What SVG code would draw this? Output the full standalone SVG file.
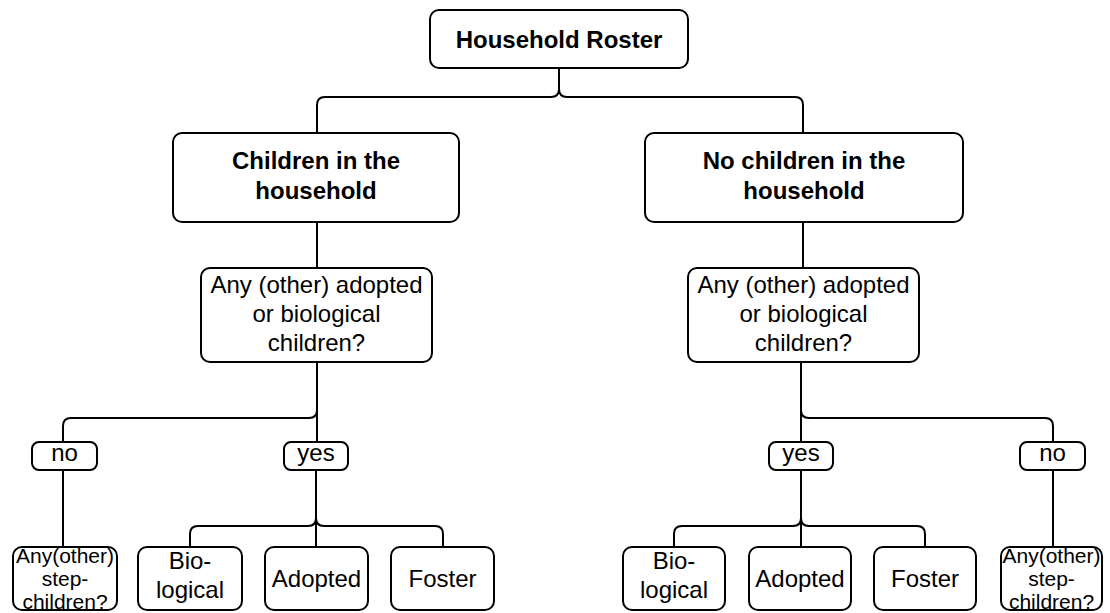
<svg xmlns="http://www.w3.org/2000/svg" width="1110" height="613" viewBox="0 0 1110 613">
<style>
rect{fill:#fff;stroke:#000;stroke-width:2}
.c path{fill:none;stroke:#000;stroke-width:2}
text{font-family:"Liberation Sans",Arial,sans-serif;font-size:24px;text-anchor:middle;fill:#000}
.b{font-weight:bold}
.s{font-size:21px}
</style>
<rect x="0" y="0" width="1110" height="613" style="stroke:none"/>
<g class="c" id="connectors">
<path d="M559,68 V89 Q559,97 551,97 H325 Q317,97 317,105 V133"/>
<path d="M559,89 Q559,97 567,97 H795 Q803,97 803,105 V133"/>
<path d="M317,222 V268"/>
<path d="M803,222 V268"/>
<path d="M317,362 V410 Q317,418 309,418 H71 Q63,418 63,426 V442"/>
<path d="M317,410 V442"/>
<path d="M801,362 V410 Q801,418 809,418 H1045 Q1053,418 1053,426 V442"/>
<path d="M801,410 V442"/>
<path d="M63,470 V547"/>
<path d="M1053,470 V547"/>
<path d="M316,470 V518 Q316,526 308,526 H198 Q190,526 190,534 V547"/>
<path d="M316,518 Q316,526 324,526 H435 Q443,526 443,534 V547"/>
<path d="M316,518 V547"/>
<path d="M801,470 V518 Q801,526 793,526 H682 Q674,526 674,534 V547"/>
<path d="M801,518 Q801,526 809,526 H917 Q925,526 925,534 V547"/>
<path d="M801,518 V547"/>
</g>
<g id="roster"><rect x="430" y="10" width="258" height="58" rx="9"/><text class="b" x="559" y="48">Household Roster</text></g>
<g id="children"><rect x="173" y="133" width="286" height="89" rx="9"/><text class="b" x="316" y="169">Children in the</text><text class="b" x="316" y="199">household</text></g>
<g id="nochildren"><rect x="645" y="133" width="318" height="89" rx="9"/><text class="b" x="804" y="169">No children in the</text><text class="b" x="804" y="199">household</text></g>
<g id="q-left"><rect x="201" y="268" width="231" height="94" rx="9"/><text x="316.5" y="293">Any (other) adopted</text><text x="316.5" y="322">or biological</text><text x="316.5" y="351">children?</text></g>
<g id="q-right"><rect x="688" y="268" width="231" height="94" rx="9"/><text x="803.5" y="293">Any (other) adopted</text><text x="803.5" y="322">or biological</text><text x="803.5" y="351">children?</text></g>
<g id="no-left"><rect x="32" y="442" width="65" height="28" rx="7"/><text x="64.5" y="461">no</text></g>
<g id="yes-left"><rect x="284" y="442" width="64" height="28" rx="7"/><text x="316" y="461">yes</text></g>
<g id="yes-right"><rect x="769" y="442" width="64" height="28" rx="7"/><text x="801" y="461">yes</text></g>
<g id="no-right"><rect x="1020" y="442" width="65" height="28" rx="7"/><text x="1052.5" y="461">no</text></g>
<g id="step-left"><rect x="13" y="547" width="104" height="63" rx="9"/><text class="s" x="65" y="563">Any(other)</text><text class="s" x="65" y="586">step-</text><text class="s" x="65" y="609">children?</text></g>
<g id="bio-left"><rect x="138" y="547" width="104" height="63" rx="9"/><text x="190" y="569">Bio-</text><text x="190" y="598">logical</text></g>
<g id="adopted-left"><rect x="265" y="547" width="103" height="63" rx="9"/><text x="316.5" y="587">Adopted</text></g>
<g id="foster-left"><rect x="391" y="547" width="103" height="63" rx="9"/><text x="442.5" y="587">Foster</text></g>
<g id="bio-right"><rect x="623" y="547" width="102" height="63" rx="9"/><text x="674" y="569">Bio-</text><text x="674" y="598">logical</text></g>
<g id="adopted-right"><rect x="749" y="547" width="102" height="63" rx="9"/><text x="800" y="587">Adopted</text></g>
<g id="foster-right"><rect x="874" y="547" width="102" height="63" rx="9"/><text x="925" y="587">Foster</text></g>
<g id="step-right"><rect x="1001" y="547" width="101" height="63" rx="9"/><text class="s" x="1051.5" y="563">Any(other)</text><text class="s" x="1051.5" y="586">step-</text><text class="s" x="1051.5" y="609">children?</text></g>
</svg>
